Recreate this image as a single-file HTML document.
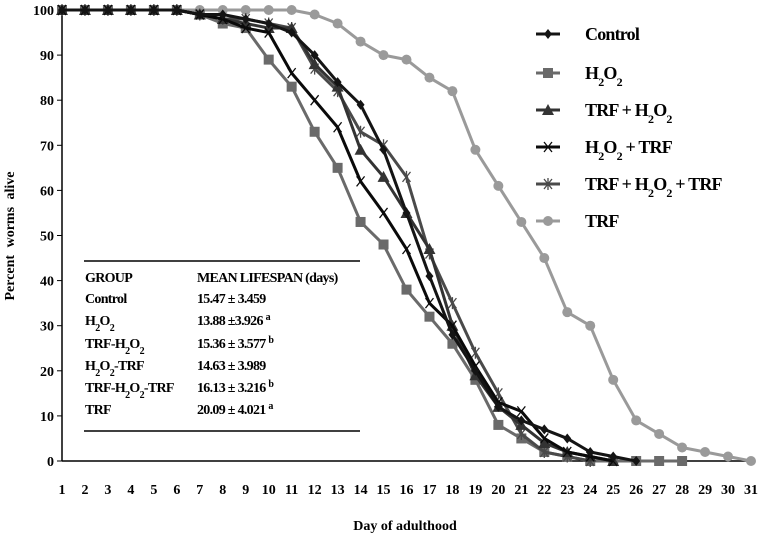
<!DOCTYPE html>
<html><head><meta charset="utf-8"><style>
body{margin:0;background:#fff;}
svg{display:block;font-family:"Liberation Serif",serif;font-weight:bold;}
</style></head><body>
<svg id="chart" width="759" height="543" viewBox="0 0 759 543" xmlns="http://www.w3.org/2000/svg"></svg>
<script>
const days=[1,2,3,4,5,6,7,8,9,10,11,12,13,14,15,16,17,18,19,20,21,22,23,24,25,26,27,28,29,30,31];
const yTicks=[0,10,20,30,40,50,60,70,80,90,100];
const controlVals=[100,100,100,100,100,100,99,99,98,97,95,90,84,79,69,55,41,28,20,12,9,7,5,2,1,0];
const h2o2Vals=[100,100,100,100,100,100,99,97,96,89,83,73,65,53,48,38,32,26,18,8,5,2,1,0,0,0,0,0];
const trfH2o2Vals=[100,100,100,100,100,100,99,98,97,96,96,88,83,69,63,55,47,30,19,12,8,4,2,1,0];
const h2o2TrfVals=[100,100,100,100,100,100,99,98,96,95,86,80,74,62,55,47,35,30,21,13,11,5,2,1,0];
const trfH2o2TrfVals=[100,100,100,100,100,100,99,98,98,97,96,87,82,73,70,63,46,35,24,15,6,2,1,0];
const trfVals=[100,100,100,100,100,100,100,100,100,100,100,99,97,93,90,89,85,82,69,61,53,45,33,30,18,9,6,3,2,1,0];
const seriesNames=["Control","H2O2","TRF + H2O2","H2O2 + TRF","TRF + H2O2 + TRF","TRF"];

const svg=document.getElementById('chart');
const NS='http://www.w3.org/2000/svg';
const X0=62,X1=751,Y0=461,Y1=10;
function xs(d){return X0+(d-1)*(X1-X0)/30;}
function ys(v){return Y0-v*(Y0-Y1)/100;}
function mk(tag,at,parent){const e=document.createElementNS(NS,tag);for(const k in at)e.setAttribute(k,at[k]);(parent||svg).appendChild(e);return e;}

const ax=mk('g',{});


mk('line',{x1:X0,y1:Y1,x2:X0,y2:Y0,stroke:'#000','stroke-width':1.5},ax);
mk('line',{x1:X0,y1:Y0,x2:X1,y2:Y0,stroke:'#000','stroke-width':1.5},ax);
yTicks.forEach(v=>{
  mk('line',{x1:X0-5,y1:ys(v),x2:X0,y2:ys(v),stroke:'#000'},ax);
  const t=mk('text',{x:X0-8,y:ys(v)+5,'text-anchor':'end','font-size':14},ax);
  t.textContent=v;
  
  
});
days.forEach(d=>{
  const t=mk('text',{x:xs(d),y:Y0+33,'text-anchor':'middle','font-size':14},ax);
  t.textContent=d;
  
  
});
const xt=mk('text',{x:405,y:530,'text-anchor':'middle','font-size':14});
xt.textContent='Day of adulthood';


const yt=mk('text',{x:0,y:0,'text-anchor':'middle','font-size':14,transform:'translate(14,236) rotate(-90)','word-spacing':4});
yt.textContent='Percent worms alive';



function marker(g,type,x,y,color){
  if(type==='diamond')mk('path',{d:`M${x} ${y-5}L${x+4} ${y}L${x} ${y+5}L${x-4} ${y}Z`,fill:color},g);
  else if(type==='square')mk('rect',{x:x-5,y:y-5,width:10,height:10,fill:color},g);
  else if(type==='triangle')mk('path',{d:`M${x} ${y-6}L${x+6} ${y+5}L${x-6} ${y+5}Z`,fill:color},g);
  else if(type==='x'){mk('path',{d:`M${x-4} ${y-5}L${x+4} ${y+5}M${x+4} ${y-5}L${x-4} ${y+5}`,stroke:color,'stroke-width':1.3},g);}
  else if(type==='star'){mk('path',{d:`M${x-4} ${y-5}L${x+4} ${y+5}M${x+4} ${y-5}L${x-4} ${y+5}M${x} ${y-6}V${y+6}`,stroke:color,'stroke-width':1.3},g);}
  else if(type==='circle')mk('circle',{cx:x,cy:y,r:5,fill:color},g);
}
const series=[
  {vals:controlVals,color:'#141414',m:'diamond',name:'control'},
  {vals:h2o2Vals,color:'#6a6a6a',m:'square',name:'h2o2'},
  {vals:trfH2o2Vals,color:'#333',m:'triangle',name:'trf-h2o2'},
  {vals:h2o2TrfVals,color:'#0a0a0a',m:'x',name:'h2o2-trf'},
  {vals:trfH2o2TrfVals,color:'#4a4a4a',m:'star',name:'trf-h2o2-trf'},
  {vals:trfVals,color:'#9a9a9a',m:'circle',name:'trf'}
];
[5,1,4,2,3,0].forEach(i=>{
  const s=series[i];
  const g=mk('g',{});
  
  
  const pts=s.vals.map((v,j)=>xs(days[j])+','+ys(v)).join(' ');
  mk('polyline',{points:pts,fill:'none',stroke:s.color,'stroke-width':3,'stroke-linejoin':'round'},g);
  s.vals.forEach((v,j)=>marker(g,s.m,xs(days[j]),ys(v),s.color));
});

const sub=(s,fs)=>`<tspan font-size="${fs}" baseline-shift="sub">${s}</tspan>`;
const sup=(s,fs)=>`<tspan font-size="${fs}" baseline-shift="super">${s}</tspan>`;
const legY=[34,73,110,147,184,221];
const H2O2L='H'+sub(2,12)+'O'+sub(2,12);
const legHTML=['Control',H2O2L,'TRF + '+H2O2L,H2O2L+' + TRF','TRF + '+H2O2L+' + TRF','TRF'];
series.forEach((s,i)=>{
  const g=mk('g',{});
  
  
  mk('line',{x1:536,y1:legY[i],x2:560,y2:legY[i],stroke:s.color,'stroke-width':3},g);
  marker(g,s.m,548,legY[i],s.color);
  const t=mk('text',{x:585,y:legY[i]+6,'font-size':18,'letter-spacing':-0.8},g);
  t.innerHTML=legHTML[i];
});

const tb=mk('g',{'font-size':14,'letter-spacing':-0.7});


mk('line',{x1:84,y1:261,x2:360,y2:261,stroke:'#000','stroke-width':1.5},tb);
mk('line',{x1:84,y1:431,x2:360,y2:431,stroke:'#000','stroke-width':1.5},tb);
const H2O2T='H'+sub(2,10)+'O'+sub(2,10);
const c1=['GROUP','Control',H2O2T,'TRF-'+H2O2T,H2O2T+'-TRF','TRF-'+H2O2T+'-TRF','TRF'];
const c2=['MEAN LIFESPAN (days)','15.47 ± 3.459','13.88 ±3.926  '+sup('a',10),'15.36 ± 3.577 '+sup('b',10),'14.63 ± 3.989','16.13 ± 3.216 '+sup('b',10),'20.09 ± 4.021 '+sup('a',10)];
const rowY=[277,298,320,343,365,387,409];
rowY.forEach((y,i)=>{
  const a=mk('text',{x:85,y:y+5},tb);a.innerHTML=c1[i];
  const b=mk('text',{x:197,y:y+5},tb);b.innerHTML=c2[i];
});
</script>
</body></html>
